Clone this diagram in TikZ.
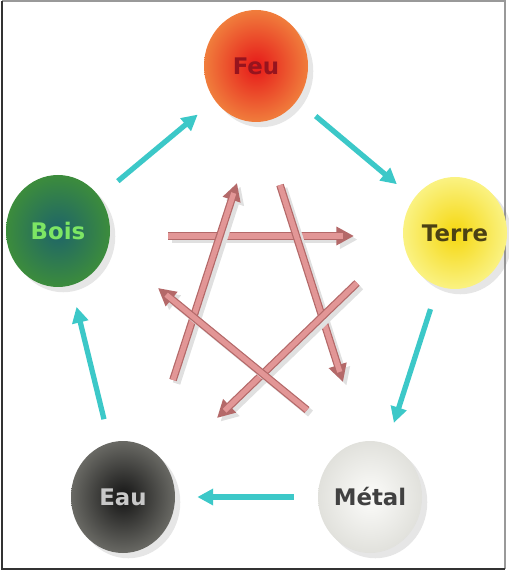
\documentclass[tikz,border=0pt]{standalone}
\usepackage{fontspec}
\setmainfont{DejaVu Sans}
\usepackage{tikz}
\usetikzlibrary{shapes.geometric,arrows.meta,shadows}
\definecolor{feuout}{RGB}{240,125,60}
\definecolor{feuin}{RGB}{230,25,25}
\definecolor{terreout}{RGB}{250,242,130}
\definecolor{terrein}{RGB}{245,215,15}
\definecolor{metalout}{RGB}{225,225,220}
\definecolor{metalin}{RGB}{252,252,250}
\definecolor{eauout}{RGB}{105,105,100}
\definecolor{eauin}{RGB}{20,20,20}
\definecolor{boisout}{RGB}{60,140,60}
\definecolor{boisin}{RGB}{30,100,105}
\definecolor{cyanarrow}{RGB}{60,200,200}
\definecolor{pinkarrow}{RGB}{226,150,150}
\definecolor{pinkedge}{RGB}{180,105,105}

\begin{document}
\begin{tikzpicture}[x=0.02cm, y=-0.02cm,
    element/.style={ellipse, minimum width=104*0.02cm, minimum height=112*0.02cm,
                    inner sep=0pt, font=\fontsize{13}{15}\selectfont\bfseries,
                    shading=radial, drop shadow={opacity=0.2, shadow xshift=3pt, shadow yshift=-3pt}},
    gen/.style={-{Triangle[length=9pt, width=9pt]}, cyanarrow, line width=3pt,
                shorten <=24*0.02cm, shorten >=22*0.02cm},
    ctrl/.style={-{Triangle[length=10pt, width=10pt]}, draw=pinkedge, line width=4.4pt,
                 preaction={draw=black!12, line width=4.4pt, transform canvas={xshift=2pt, yshift=-2pt}}},
    ctrlin/.style={pinkarrow, line width=3pt, shorten >=6pt}
]
    \useasboundingbox (0,0) rectangle (508,573);
    \draw[black!40, line width=0.6pt] (2,1) -- (505,1) -- (505,569);
    \draw[black!80, line width=1.6pt] (2,1) -- (2,569) -- (505,569);

    % the five elements
    \node[element, inner color=feuin, outer color=feuout, text={rgb,255:red,150;green,20;blue,30}] (feu) at (256,66) {Feu};
    \node[element, inner color=terrein, outer color=terreout, text={rgb,255:red,75;green,65;blue,20}] (terre) at (455,233) {Terre};
    \node[element, inner color=metalin, outer color=metalout, text={rgb,255:red,65;green,65;blue,65}] (metal) at (370,497) {Métal};
    \node[element, inner color=eauin, outer color=eauout, text={rgb,255:red,200;green,200;blue,200}] (eau) at (123,497) {Eau};
    \node[element, inner color=boisin, outer color=boisout, text={rgb,255:red,125;green,230;blue,100}] (bois) at (58,231) {Bois};

    % generating cycle
    \draw[gen] (bois) -- (feu);
    \draw[gen] (feu) -- (terre);
    \draw[gen] (terre) -- (metal);
    \draw[gen] (metal) -- (eau);
    \draw[gen] (eau) -- (bois);

    % controlling star
    \coordinate (boisA) at (168,236);  \coordinate (terreB) at (354,236);
    \coordinate (eauA) at (173,380);   \coordinate (feuB) at (237,183);
    \coordinate (feuA) at (280,185);   \coordinate (metalB) at (343,382);
    \coordinate (terreA) at (357,283); \coordinate (eauB) at (217,418);
    \coordinate (metalA) at (307,410); \coordinate (boisB) at (158,288);

    \foreach \a/\b in {boisA/terreB, eauA/feuB, feuA/metalB, terreA/eauB, metalA/boisB}{
        \draw[ctrl] (\a) -- (\b);
        \draw[ctrlin] (\a) -- (\b);
    }
\end{tikzpicture}
\end{document}
